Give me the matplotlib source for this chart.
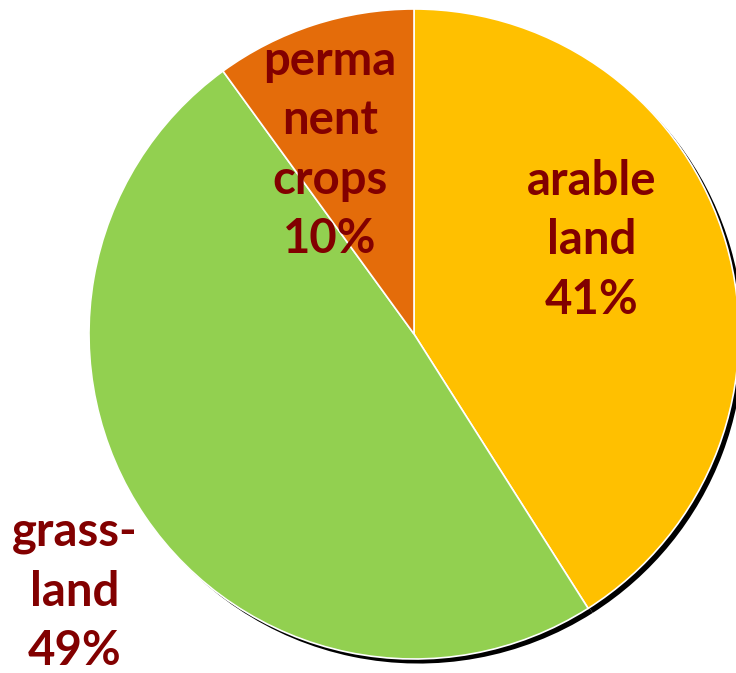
import matplotlib.pyplot as plt

# land use shares
labels = ['arable\nland\n41%', 'grass-\nland\n49%', 'perma\nnent\ncrops\n10%']
shares = [41, 49, 10]
colors = ['#FFC000', '#92D050', '#E46C0A']
label_pos = [(0.548, 0.289), (-1.043, -0.793), (-0.258, 0.566)]

fig = plt.figure(figsize=(7.36, 6.73), dpi=100)
ax = fig.add_axes([0, 0, 1, 1])

# dark drop shadow behind the pie
ax.pie(shares, startangle=90, counterclock=False, colors=['black'] * 3,
       center=(0.014, -0.014), radius=1.0)
ax.pie(shares, startangle=90, counterclock=False, colors=colors,
       radius=1.0, wedgeprops=dict(edgecolor='white', linewidth=1.2))

for text, (x, y) in zip(labels, label_pos):
    ax.text(x, y, text, ha='center', va='center', fontsize=34,
            fontweight='bold', color='#820000', family='Lato',
            linespacing=1.43)

ax.set_xlim(-414 / 325, (736 - 414) / 325)
ax.set_ylim(-(673 - 334) / 325, 334 / 325)
ax.set_aspect('auto')
ax.axis('off')

fig.savefig('out.png', dpi=100, facecolor='white')
